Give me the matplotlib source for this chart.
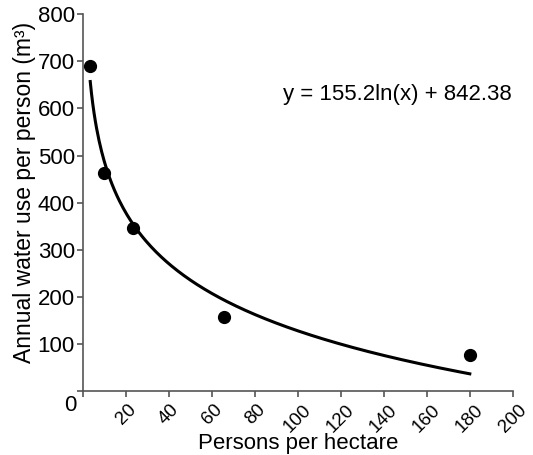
import numpy as np
import matplotlib.pyplot as plt

plt.rcParams['font.family'] = ['Liberation Sans', 'DejaVu Sans']

# observed points
density = [3.3, 9.8, 23.3, 65.6, 180]
water_use = [690, 463, 347, 158, 76]

# log trend line: y = -155.2 ln(x) + 842.38
slope = -155.2
intercept = 842.38
eq_label = 'y = 155.2ln(x) + 842.38'

x_ticks = [20, 40, 60, 80, 100, 120, 140, 160, 180, 200]
y_ticks = [100, 200, 300, 400, 500, 600, 700, 800]

fig = plt.figure(figsize=(5.33, 4.55), dpi=100)
ax = fig.add_axes([0.156, 0.1407, 0.806, 0.828])

xs = np.linspace(min(density), max(density), 300)
ax.plot(xs, slope * np.log(xs) + intercept, color='black', lw=2.2, zorder=2)
ax.plot(density, water_use, 'o', color='black', markersize=8.5, zorder=3)

ax.set_xlim(0, 200)
ax.set_ylim(0, 800)
ax.set_xticks([0] + x_ticks)
ax.set_xticklabels([''] + [str(t) for t in x_ticks], rotation=45,
                   ha='center', va='top', fontsize=13.5)
ax.set_yticks([0] + y_ticks)
ax.set_yticklabels([''] + [str(t) for t in y_ticks], fontsize=16)
ax.text(-6, -30, '0', fontsize=16, ha='center', va='center')

for side in ['top', 'right']:
    ax.spines[side].set_visible(False)
for side in ['left', 'bottom']:
    ax.spines[side].set_color('#555555')
    ax.spines[side].set_linewidth(1.2)
ax.tick_params(direction='out', length=4.5, color='#555555', width=1.2, pad=1.5)
ax.tick_params(axis='x', pad=3)

ax.set_xlabel('Persons per hectare', fontsize=16)
ax.xaxis.set_label_coords(0.5, -0.112)
ax.set_ylabel('Annual water use per person (m³)', fontsize=16.5)
ax.yaxis.set_label_coords(-0.11, 0.528)

ax.text(93, 630, eq_label, fontsize=16, ha='left', va='center')

fig.savefig('out.png', dpi=100)
